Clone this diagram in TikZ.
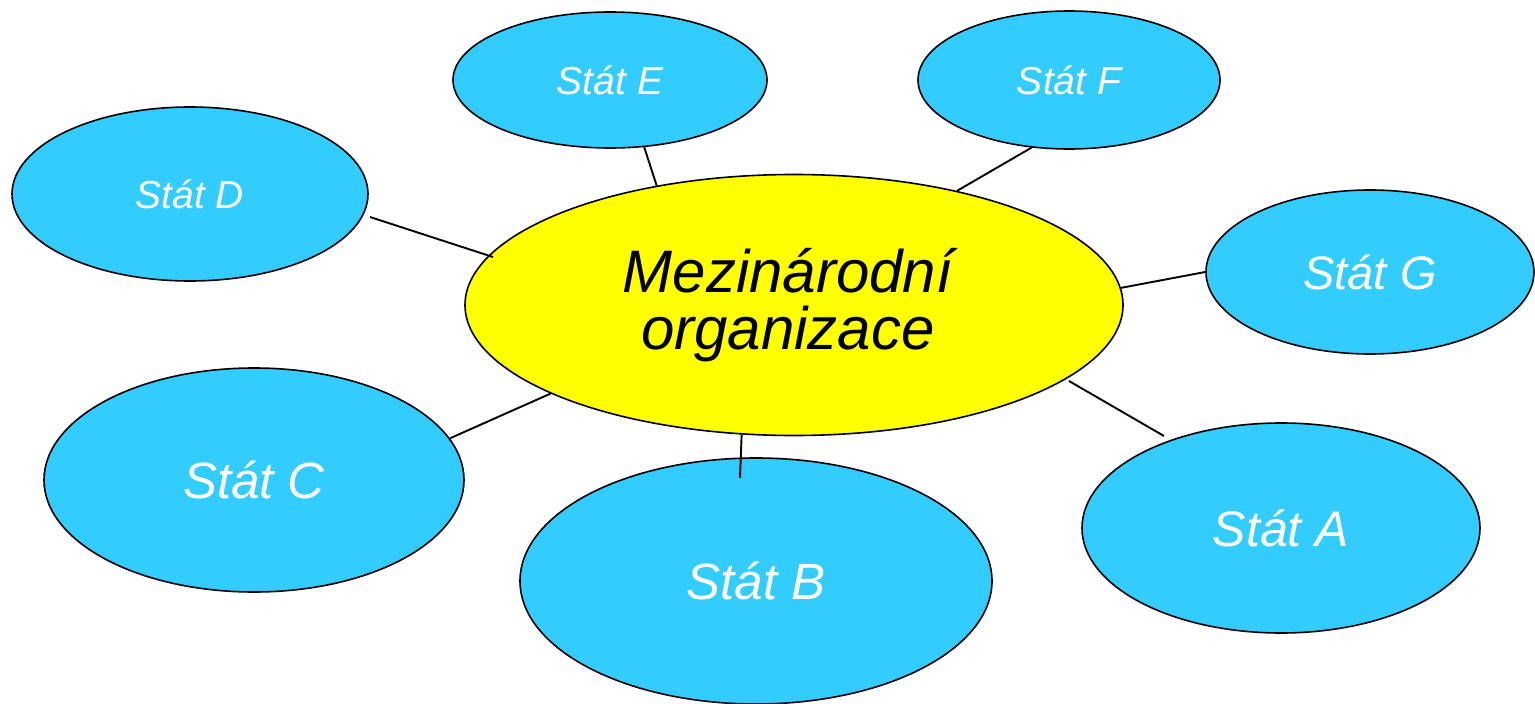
\documentclass[tikz,border=0pt]{standalone}
\usepackage{fontspec}
\setmainfont{Liberation Sans}
\usetikzlibrary{shapes.geometric}
\definecolor{stateblue}{HTML}{33CCFF}
\definecolor{orgyellow}{HTML}{FFFF00}
\begin{document}
\begin{tikzpicture}[x=1pt,y=-1pt,
  state/.style={ellipse,draw=black,line width=1.6pt,fill=stateblue,inner sep=0pt,
    text=white,font=\itshape},
  org/.style={ellipse,draw=black,line width=1.6pt,fill=orgyellow,inner sep=0pt,
    text=black,align=center,font=\fontsize{60}{57}\selectfont\itshape},
  link/.style={draw=black,line width=1.9pt}]
\useasboundingbox (0,0) rectangle (1535,704);
\node[org,minimum width=658pt,minimum height=261pt] (M) at (794,305)
  {\hspace*{-12pt}Mezinárodní\\\hspace*{-12pt}organizace};
\node[state,minimum width=314pt,minimum height=136pt,font=\fontsize{39}{39}\selectfont\itshape] (E) at (610,80) {Stát E};
\node[state,minimum width=302pt,minimum height=138pt,font=\fontsize{39}{39}\selectfont\itshape] (F) at (1069,80) {Stát F};
\node[state,minimum width=356pt,minimum height=174pt,font=\fontsize{39}{39}\selectfont\itshape] (D) at (190,194) {Stát D};
\node[state,minimum width=328pt,minimum height=164pt,font=\fontsize{47}{47}\selectfont\itshape] (G) at (1370,272) {Stát G};
\node[state,minimum width=420pt,minimum height=224pt,font=\fontsize{51}{51}\selectfont\itshape] (C) at (254,480) {Stát C};
\node[state,minimum width=472pt,minimum height=246pt,font=\fontsize{51}{51}\selectfont\itshape] (B) at (756,581) {Stát B};
\node[state,minimum width=398pt,minimum height=210pt,font=\fontsize{50}{50}\selectfont\itshape] (A) at (1281,528) {Stát A};
\coordinate (dend) at (370,217);
\coordinate (mdend) at (493,257);
\coordinate (bend) at (740,478);
\coordinate (aend) at (1164,436);
\coordinate (maend) at (1069,381);
\draw[link] (E.-63.4) -- (M.139.3);
\draw[link] (F.-119.8) -- (M.35.3);
\draw[link] (dend) -- (mdend);
\draw[link] (G.180) -- (M.3.3);
\draw[link] (C.12) -- (M.-160.1);
\draw[link] (M.-112.2) -- (bend);
\draw[link] (aend) -- (maend);
\end{tikzpicture}
\end{document}
